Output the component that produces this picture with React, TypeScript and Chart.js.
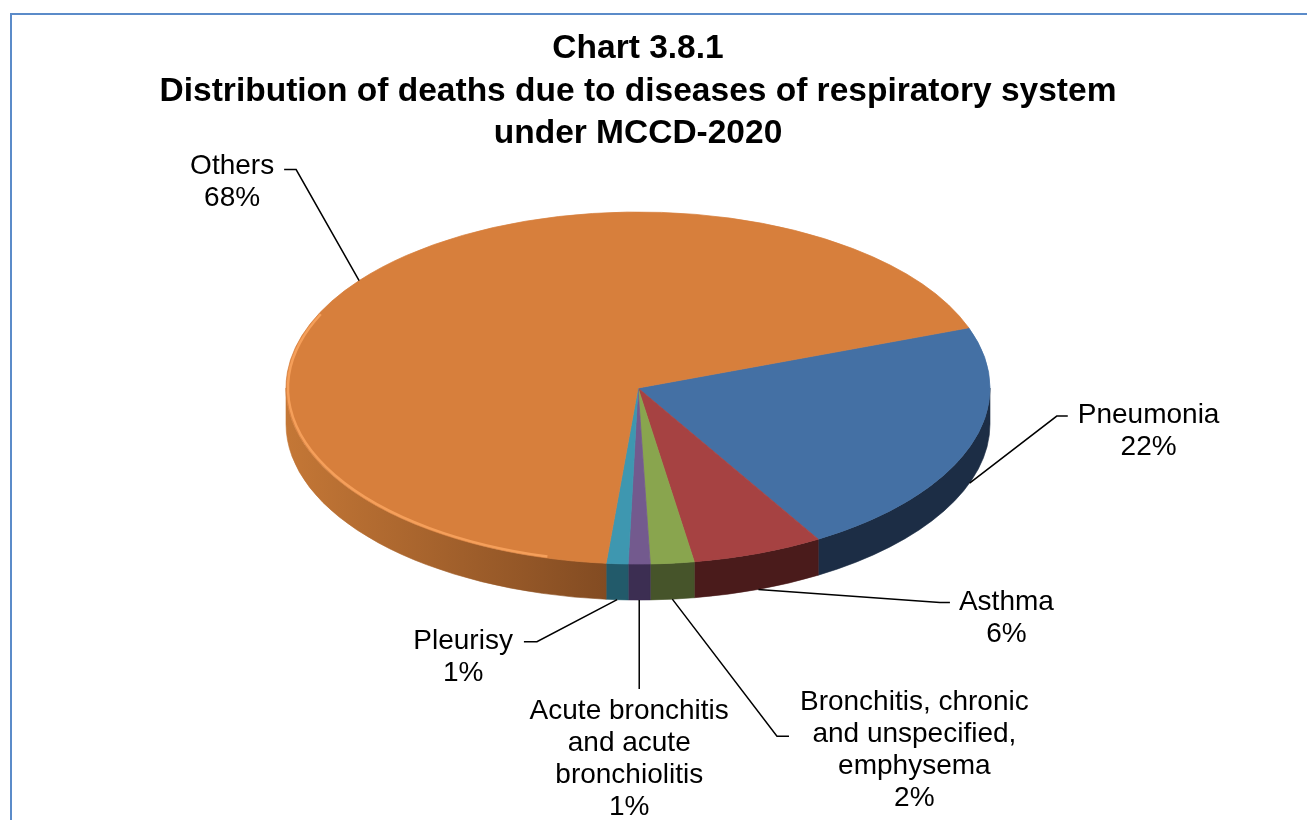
import React, { useEffect, useRef } from 'react';
import { Chart, registerables } from 'chart.js';

Chart.register(...registerables);

// ---------- data ----------
const categories = [
  'Pneumonia',
  'Asthma',
  'Bronchitis, chronic and unspecified, emphysema',
  'Acute bronchitis and acute bronchiolitis',
  'Pleurisy',
  'Others',
];
const values = [22, 6, 2, 1, 1, 68];
const labelLines = [
  ['Pneumonia'],
  ['Asthma'],
  ['Bronchitis, chronic', 'and unspecified,', 'emphysema'],
  ['Acute bronchitis', 'and acute', 'bronchiolitis'],
  ['Pleurisy'],
  ['Others'],
];
const titleLines = [
  'Chart 3.8.1',
  'Distribution of deaths due to diseases of respiratory system',
  'under MCCD-2020',
];

// ---------- styles ----------
const FONT = "'Liberation Sans', Arial, Helvetica, sans-serif";
const topColors = ['#4470a4', '#a64242', '#89a54e', '#735a8e', '#3e97b0', '#d77f3c'];
const sideColors: (string | string[])[] = [
  '#1c2d45',
  '#4a1b1b',
  '#46542a',
  '#3c2e52',
  '#225a6a',
  ['#c47736', '#7c4720'],
];
const TILT = 0.5;
const DEPTH = 36;
const LABEL_SIZE = 28;
const LABEL_LH = 32;
const TITLE_SIZE = 33.5;
const TITLE_LH = 1.26;
const TITLE_PAD_TOP = 28;
const labelLayout = [
  { dx: 179, dy: -68, side: 'left', attachDy: 1, gap: 10, run: 11 },
  { dx: 248, dy: 13, side: 'left', attachDy: 0, gap: 9, run: 10 },
  { dx: 242, dy: 103, side: 'left', attachDy: 34, gap: 11, run: 12 },
  { dx: -10, dy: 111, side: 'top', attachDy: 0, gap: 22, run: 0 },
  { dx: -154, dy: 42, side: 'right', attachDy: 0, gap: 11, run: 13 },
  { dx: -127, dy: -114, side: 'right', attachDy: 3, gap: 10, run: 12 },
];

const TAU = Math.PI * 2;
const norm = (a: number) => ((a % TAU) + TAU) % TAU;

const pie3d = {
  id: 'pie3d',
  beforeDatasetsDraw(chart: any) {
    const ctx: CanvasRenderingContext2D = chart.ctx;
    const arcs = chart.getDatasetMeta(0).data as any[];
    if (!arcs.length) return;
    const cx = arcs[0].x;
    const cy = arcs[0].y;
    const R = arcs[0].outerRadius;
    const r = R * TILT;
    // side walls (front half only)
    arcs.forEach((arc: any, i: number) => {
      const a1 = norm(arc.startAngle);
      const a2 = a1 + (arc.endAngle - arc.startAngle);
      [0, TAU].forEach((k) => {
        const s = Math.max(a1, k);
        const e = Math.min(a2, k + Math.PI);
        if (s >= e) return;
        const sc = sideColors[i];
        let fill: any;
        if (Array.isArray(sc)) {
          const g = ctx.createLinearGradient(cx - R, 0, cx, 0);
          g.addColorStop(0, sc[0]);
          g.addColorStop(1, sc[1]);
          fill = g;
        } else {
          fill = sc;
        }
        ctx.save();
        ctx.beginPath();
        ctx.ellipse(cx, cy, R, r, 0, s, e, false);
        ctx.ellipse(cx, cy + DEPTH, R, r, 0, e, s, true);
        ctx.closePath();
        ctx.fillStyle = fill;
        ctx.fill();
        ctx.strokeStyle = fill;
        ctx.lineWidth = 0.6;
        ctx.stroke();
        ctx.restore();
      });
    });
    // squash top face
    ctx.save();
    ctx.translate(0, cy);
    ctx.scale(1, TILT);
    ctx.translate(0, -cy);
  },
  afterDatasetsDraw(chart: any) {
    const ctx: CanvasRenderingContext2D = chart.ctx;
    ctx.restore();
    const arcs = chart.getDatasetMeta(0).data as any[];
    if (!arcs.length) return;
    const cx = arcs[0].x;
    const cy = arcs[0].y;
    const R = arcs[0].outerRadius;
    const r = R * TILT;

    // bevel highlight on the left rim of the largest slice
    const oi = values.length - 1;
    const o = arcs[oi];
    const os = norm(o.startAngle);
    const hs = Math.max(os, (105 * Math.PI) / 180);
    const he = Math.min(os + (o.endAngle - o.startAngle), (205 * Math.PI) / 180);
    if (hs < he) {
      ctx.save();
      ctx.beginPath();
      ctx.ellipse(cx, cy, R - 2, r - 1.5, 0, hs, he, false);
      ctx.strokeStyle = 'rgba(250,165,95,0.85)';
      ctx.lineWidth = 2.5;
      ctx.stroke();
      ctx.restore();
    }

    // labels with leader lines
    const total = values.reduce((a, b) => a + b, 0);
    ctx.save();
    ctx.font = `${LABEL_SIZE}px ${FONT}`;
    ctx.textAlign = 'center';
    ctx.textBaseline = 'middle';
    arcs.forEach((arc: any, i: number) => {
      const mid = (arc.startAngle + arc.endAngle) / 2;
      const sn = Math.sin(mid);
      const ax = cx + R * Math.cos(mid);
      const ay = cy + r * sn + (sn > 0 ? DEPTH : 0);
      const L = labelLayout[i];
      const pct = Math.round((values[i] / total) * 100) + '%';
      const lines = [...labelLines[i], pct];
      const tx = ax + L.dx;
      const ty = ay + L.dy;
      ctx.fillStyle = '#000';
      lines.forEach((s, j) => ctx.fillText(s, tx, ty + j * LABEL_LH));
      const w = Math.max(...lines.map((s) => ctx.measureText(s).width));
      ctx.beginPath();
      ctx.strokeStyle = '#000';
      ctx.lineWidth = 1.5;
      ctx.moveTo(ax, ay);
      if (L.side === 'top') {
        ctx.lineTo(ax, ty - L.gap);
      } else {
        const dir = L.side === 'left' ? -1 : 1;
        const ex = tx + dir * (w / 2 + L.gap);
        const ey = ty + L.attachDy;
        ctx.lineTo(ex + dir * L.run, ey);
        ctx.lineTo(ex, ey);
      }
      ctx.stroke();
    });
    ctx.restore();
  },
};

export default function App() {
  const ref = useRef<HTMLCanvasElement | null>(null);
  useEffect(() => {
    if (!ref.current) return;
    const titleHeight = TITLE_PAD_TOP + titleLines.length * TITLE_SIZE * TITLE_LH;
    const pieCenterY = 388;
    const bottomPad = 820 - (2 * pieCenterY - titleHeight);
    const chart = new Chart(ref.current, {
      type: 'pie',
      data: {
        labels: categories,
        datasets: [
          {
            data: values,
            backgroundColor: topColors,
            borderColor: topColors,
            borderWidth: 1,
            radius: 352,
            clip: false,
          } as any,
        ],
      },
      options: {
        responsive: false,
        animation: false,
        events: [],
        rotation: 70,
        layout: { padding: { left: 0, right: 31, top: 0, bottom: bottomPad } },
        plugins: {
          legend: { display: false },
          tooltip: { enabled: false },
          title: {
            display: true,
            text: titleLines,
            color: '#000',
            font: { family: FONT, size: TITLE_SIZE, weight: 'bold', lineHeight: TITLE_LH },
            padding: { top: TITLE_PAD_TOP, bottom: 0 },
          },
        },
      } as any,
      plugins: [pie3d],
    });
    return () => chart.destroy();
  }, []);
  return (
    <div
      style={{
        position: 'fixed',
        left: 0,
        top: 0,
        width: 1307,
        height: 820,
        overflow: 'hidden',
        background: '#fff',
      }}
    >
      <div
        style={{
          position: 'absolute',
          left: 10,
          top: 13,
          width: 1400,
          height: 900,
          border: '2px solid #5b8bc9',
          boxSizing: 'border-box',
        }}
      />
      <canvas
        ref={ref}
        width={1307}
        height={820}
        style={{ position: 'absolute', left: 0, top: 0, width: 1307, height: 820 }}
      />
    </div>
  );
}
